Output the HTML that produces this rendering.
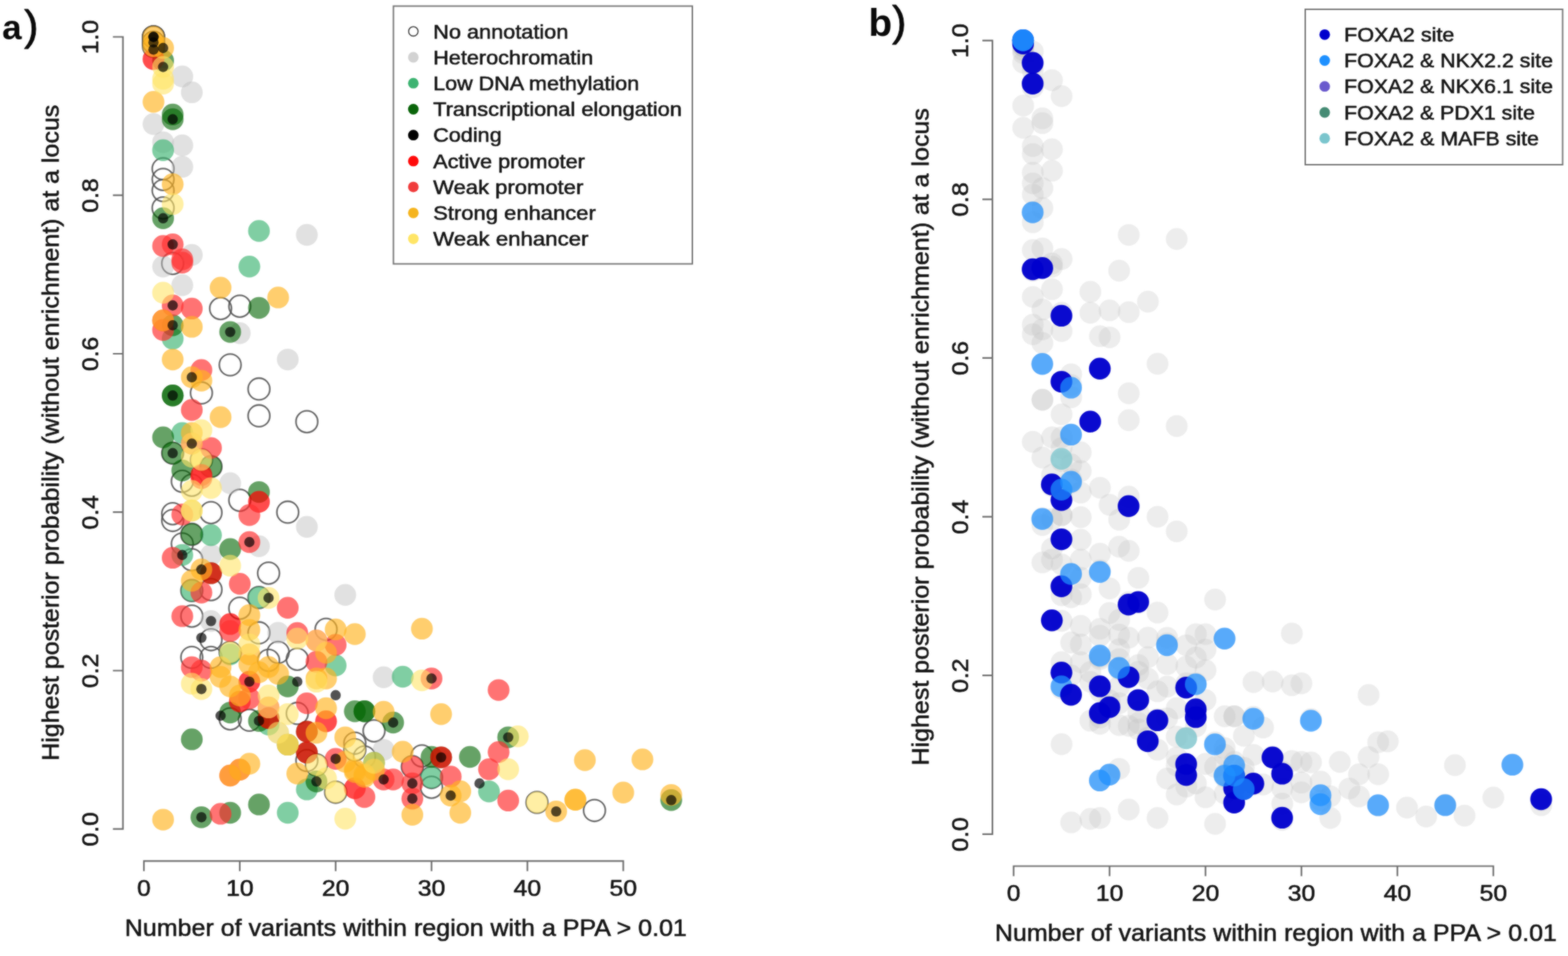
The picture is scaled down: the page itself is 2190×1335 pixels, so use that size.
<!DOCTYPE html>
<html lang="en"><head><meta charset="utf-8"><title>Figure: credible-set size vs. highest posterior probability</title>
<style>html,body{margin:0;padding:0;background:#fff;overflow:hidden}body{width:2190px;height:1335px}svg{display:block}text{font-family:"Liberation Sans",sans-serif;fill:#161616;stroke:#161616;stroke-width:.7px;stroke-linejoin:round}.ax{stroke:#6c6c6c;stroke-width:2.2;fill:none}.lg{stroke:#757575;stroke-width:2;fill:#fff}.N{fill:none;stroke:#505050;stroke-opacity:.85;stroke-width:2.3}.H{fill:#bebebe;fill-opacity:0.46}.L{fill:#3cb371;fill-opacity:0.65}.T{fill:#006400;fill-opacity:0.6}.C{fill:#000000;fill-opacity:0.68}.A{fill:#ff0000;fill-opacity:0.7}.W{fill:#ff3030;fill-opacity:0.68}.S{fill:#ffb421;fill-opacity:0.65}.E{fill:#ffe468;fill-opacity:0.6}.bF{fill:#0000cd;fill-opacity:0.96}.bK{fill:#1e90ff;fill-opacity:0.72}.bX{fill:#6a5acd;fill-opacity:0.8}.bP{fill:#458b74;fill-opacity:0.7}.bM{fill:#7ac5cd;fill-opacity:0.75}.G{fill:#bebebe;fill-opacity:.28}.pl{font-weight:bold;fill:#0a0a0a;stroke:none}.pr{font-weight:normal;stroke:#0a0a0a;stroke-width:1px}</style></head><body>
<svg width="2190" height="1335" viewBox="0 0 2190 1335">
<defs><filter id="soft" x="0" y="0" width="100%" height="100%" color-interpolation-filters="sRGB"><feGaussianBlur stdDeviation="0.85" result="b"/><feComposite in="SourceGraphic" in2="b" operator="arithmetic" k1="0" k2="0.4" k3="0.6" k4="0"/></filter></defs>
<g filter="url(#soft)">
<rect width="2190" height="1335" fill="#fff"/>
<g id="panel-a-points">
<g class="N">
<circle cx="214.4" cy="51.5" r="15.2"/>
<circle cx="214.4" cy="51.5" r="15.2"/>
<circle cx="214.4" cy="51.5" r="15.2"/>
<circle cx="214.4" cy="59.2" r="15.2"/>
<circle cx="214.4" cy="59.2" r="15.2"/>
<circle cx="214.4" cy="64.8" r="15.2"/>
<circle cx="227.8" cy="235.7" r="15.2"/>
<circle cx="227.8" cy="250.6" r="15.2"/>
<circle cx="227.8" cy="266.1" r="15.2"/>
<circle cx="227.8" cy="290.4" r="15.2"/>
<circle cx="241.2" cy="367.9" r="15.2"/>
<circle cx="308.1" cy="430.9" r="15.2"/>
<circle cx="334.9" cy="427.6" r="15.2"/>
<circle cx="321.5" cy="509.5" r="15.2"/>
<circle cx="281.3" cy="548.7" r="15.2"/>
<circle cx="361.7" cy="543.2" r="15.2"/>
<circle cx="361.7" cy="580.7" r="15.2"/>
<circle cx="428.6" cy="588.9" r="15.2"/>
<circle cx="241.2" cy="632.8" r="15.2"/>
<circle cx="281.3" cy="642.2" r="15.2"/>
<circle cx="294.7" cy="651.5" r="15.2"/>
<circle cx="254.6" cy="672.1" r="15.2"/>
<circle cx="267.9" cy="677.6" r="15.2"/>
<circle cx="334.9" cy="698.6" r="15.2"/>
<circle cx="401.9" cy="715.2" r="15.2"/>
<circle cx="241.2" cy="717.4" r="15.2"/>
<circle cx="241.2" cy="726.8" r="15.2"/>
<circle cx="294.7" cy="715.9" r="15.2"/>
<circle cx="267.9" cy="746.2" r="15.2"/>
<circle cx="254.6" cy="759.5" r="15.2"/>
<circle cx="267.9" cy="781.6" r="15.2"/>
<circle cx="375.1" cy="800.4" r="15.2"/>
<circle cx="267.9" cy="824.7" r="15.2"/>
<circle cx="294.7" cy="823.4" r="15.2"/>
<circle cx="361.7" cy="834.4" r="15.2"/>
<circle cx="334.9" cy="849.4" r="15.2"/>
<circle cx="267.9" cy="860.4" r="15.2"/>
<circle cx="361.7" cy="883.7" r="15.2"/>
<circle cx="294.7" cy="893.3" r="15.2"/>
<circle cx="455.4" cy="878.9" r="15.2"/>
<circle cx="267.9" cy="918" r="15.2"/>
<circle cx="294.7" cy="918" r="15.2"/>
<circle cx="321.5" cy="911" r="15.2"/>
<circle cx="388.5" cy="911" r="15.2"/>
<circle cx="375.1" cy="922.1" r="15.2"/>
<circle cx="415.2" cy="920.6" r="15.2"/>
<circle cx="321.5" cy="1003.9" r="15.2"/>
<circle cx="348.3" cy="1005.7" r="15.2"/>
<circle cx="415.2" cy="996.2" r="15.2"/>
<circle cx="428.6" cy="1062" r="15.2"/>
<circle cx="522.4" cy="1020.6" r="15.2"/>
<circle cx="495.6" cy="1037.8" r="15.2"/>
<circle cx="495.6" cy="1047.1" r="15.2"/>
<circle cx="589.3" cy="1055.6" r="15.2"/>
<circle cx="575.9" cy="1070.6" r="15.2"/>
<circle cx="602.7" cy="1085.8" r="15.2"/>
<circle cx="602.7" cy="1099.4" r="15.2"/>
<circle cx="468.8" cy="1106.3" r="15.2"/>
<circle cx="442" cy="1068.1" r="15.2"/>
<circle cx="509" cy="1057" r="15.2"/>
<circle cx="750" cy="1120.5" r="15.2"/>
<circle cx="830.3" cy="1131.8" r="15.2"/>
</g>
<g class="H">
<circle cx="254.6" cy="106.8" r="15.2"/>
<circle cx="267.9" cy="128.9" r="15.2"/>
<circle cx="214.4" cy="173.2" r="15.2"/>
<circle cx="227.8" cy="198.6" r="15.2"/>
<circle cx="254.6" cy="203" r="15.2"/>
<circle cx="254.6" cy="232.9" r="15.2"/>
<circle cx="428.6" cy="328" r="15.2"/>
<circle cx="267.9" cy="356" r="15.2"/>
<circle cx="227.8" cy="372.3" r="15.2"/>
<circle cx="254.6" cy="398.2" r="15.2"/>
<circle cx="334.9" cy="465.2" r="15.2"/>
<circle cx="401.9" cy="502.1" r="15.2"/>
<circle cx="321.5" cy="674.8" r="15.2"/>
<circle cx="267.9" cy="713" r="15.2"/>
<circle cx="428.6" cy="735.7" r="15.2"/>
<circle cx="361.7" cy="762.8" r="15.2"/>
<circle cx="294.7" cy="775" r="15.2"/>
<circle cx="294.7" cy="867.3" r="15.2"/>
<circle cx="388.5" cy="883.7" r="15.2"/>
<circle cx="388.5" cy="1023.3" r="15.2"/>
<circle cx="482.2" cy="830.7" r="15.2"/>
<circle cx="535.8" cy="945.8" r="15.2"/>
<circle cx="535.8" cy="1047.1" r="15.2"/>
</g>
<g class="L">
<circle cx="227.8" cy="209.7" r="15.2"/>
<circle cx="361.7" cy="322.5" r="15.2"/>
<circle cx="348.3" cy="372.3" r="15.2"/>
<circle cx="241.2" cy="473" r="15.2"/>
<circle cx="254.6" cy="604.6" r="15.2"/>
<circle cx="294.7" cy="747.3" r="15.2"/>
<circle cx="254.6" cy="775" r="15.2"/>
<circle cx="267.9" cy="824.7" r="15.2"/>
<circle cx="361.7" cy="834.4" r="15.2"/>
<circle cx="321.5" cy="913.7" r="15.2"/>
<circle cx="375.1" cy="1011.7" r="15.2"/>
<circle cx="562.5" cy="945" r="15.2"/>
<circle cx="468.8" cy="929.3" r="15.2"/>
<circle cx="602.7" cy="1085.8" r="15.2"/>
<circle cx="683" cy="1105.2" r="15.2"/>
<circle cx="428.6" cy="1102.4" r="15.2"/>
<circle cx="401.9" cy="1135" r="15.2"/>
</g>
<g class="T">
<circle cx="227.8" cy="84.7" r="15.2"/>
<circle cx="241.2" cy="159.9" r="15.2"/>
<circle cx="241.2" cy="166.5" r="15.2"/>
<circle cx="227.8" cy="304.8" r="15.2"/>
<circle cx="361.7" cy="430" r="15.2"/>
<circle cx="241.2" cy="454.2" r="15.2"/>
<circle cx="321.5" cy="463.6" r="15.2"/>
<circle cx="241.2" cy="552.3" r="15.2"/>
<circle cx="241.2" cy="552.3" r="15.2"/>
<circle cx="227.8" cy="610.8" r="15.2"/>
<circle cx="241.2" cy="632.8" r="15.2"/>
<circle cx="294.7" cy="651.5" r="15.2"/>
<circle cx="254.6" cy="657" r="15.2"/>
<circle cx="361.7" cy="687.1" r="15.2"/>
<circle cx="267.9" cy="746.2" r="15.2"/>
<circle cx="321.5" cy="766.7" r="15.2"/>
<circle cx="294.7" cy="800.4" r="15.2"/>
<circle cx="401.9" cy="958.6" r="15.2"/>
<circle cx="321.5" cy="995.1" r="15.2"/>
<circle cx="361.7" cy="1006.7" r="15.2"/>
<circle cx="375.1" cy="1002.8" r="15.2"/>
<circle cx="401.9" cy="1039.9" r="15.2"/>
<circle cx="428.6" cy="1021.6" r="15.2"/>
<circle cx="428.6" cy="1051" r="15.2"/>
<circle cx="267.9" cy="1032.4" r="15.2"/>
<circle cx="495.6" cy="993.3" r="15.2"/>
<circle cx="509" cy="993.3" r="15.2"/>
<circle cx="509" cy="993.3" r="15.2"/>
<circle cx="549.1" cy="1009" r="15.2"/>
<circle cx="602.7" cy="1057" r="15.2"/>
<circle cx="616.1" cy="1057.6" r="15.2"/>
<circle cx="656.3" cy="1057" r="15.2"/>
<circle cx="709.8" cy="1029.6" r="15.2"/>
<circle cx="522.4" cy="1065.2" r="15.2"/>
<circle cx="442" cy="1091.3" r="15.2"/>
<circle cx="281.3" cy="1141.2" r="15.2"/>
<circle cx="321.5" cy="1135" r="15.2"/>
<circle cx="361.7" cy="1123.4" r="15.2"/>
<circle cx="937.5" cy="1117.3" r="15.2"/>
</g>
<g class="A">
<circle cx="214.4" cy="82.5" r="15.2"/>
<circle cx="281.3" cy="663.2" r="15.2"/>
<circle cx="361.7" cy="700.8" r="15.2"/>
<circle cx="294.7" cy="800.4" r="15.2"/>
<circle cx="321.5" cy="871.4" r="15.2"/>
<circle cx="348.3" cy="951.9" r="15.2"/>
<circle cx="334.9" cy="979.6" r="15.2"/>
<circle cx="375.1" cy="1002.8" r="15.2"/>
<circle cx="428.6" cy="1021.6" r="15.2"/>
<circle cx="428.6" cy="1051" r="15.2"/>
<circle cx="455.4" cy="1007.3" r="15.2"/>
<circle cx="616.1" cy="1057.6" r="15.2"/>
<circle cx="495.6" cy="1100.8" r="15.2"/>
</g>
<g class="W">
<circle cx="227.8" cy="343.5" r="15.2"/>
<circle cx="241.2" cy="341.3" r="15.2"/>
<circle cx="254.6" cy="362.3" r="15.2"/>
<circle cx="254.6" cy="366.8" r="15.2"/>
<circle cx="241.2" cy="426.5" r="15.2"/>
<circle cx="267.9" cy="430.9" r="15.2"/>
<circle cx="227.8" cy="447.5" r="15.2"/>
<circle cx="227.8" cy="460.8" r="15.2"/>
<circle cx="281.3" cy="516.7" r="15.2"/>
<circle cx="267.9" cy="572.5" r="15.2"/>
<circle cx="267.9" cy="619.5" r="15.2"/>
<circle cx="294.7" cy="625.6" r="15.2"/>
<circle cx="281.3" cy="667.7" r="15.2"/>
<circle cx="348.3" cy="719.3" r="15.2"/>
<circle cx="254.6" cy="718.5" r="15.2"/>
<circle cx="348.3" cy="757" r="15.2"/>
<circle cx="241.2" cy="778.9" r="15.2"/>
<circle cx="334.9" cy="815.2" r="15.2"/>
<circle cx="281.3" cy="827.5" r="15.2"/>
<circle cx="401.9" cy="848.7" r="15.2"/>
<circle cx="254.6" cy="860.4" r="15.2"/>
<circle cx="321.5" cy="881.2" r="15.2"/>
<circle cx="415.2" cy="883.9" r="15.2"/>
<circle cx="267.9" cy="931.6" r="15.2"/>
<circle cx="281.3" cy="936.5" r="15.2"/>
<circle cx="375.1" cy="987.9" r="15.2"/>
<circle cx="348.3" cy="975.2" r="15.2"/>
<circle cx="428.6" cy="982.1" r="15.2"/>
<circle cx="468.8" cy="1059.7" r="15.2"/>
<circle cx="321.5" cy="1083" r="15.2"/>
<circle cx="334.9" cy="1074.7" r="15.2"/>
<circle cx="602.7" cy="947.5" r="15.2"/>
<circle cx="696.4" cy="963.6" r="15.2"/>
<circle cx="442" cy="894.4" r="15.2"/>
<circle cx="442" cy="924.3" r="15.2"/>
<circle cx="468.8" cy="900.5" r="15.2"/>
<circle cx="696.4" cy="1050.2" r="15.2"/>
<circle cx="683" cy="1074.2" r="15.2"/>
<circle cx="575.9" cy="1070.6" r="15.2"/>
<circle cx="575.9" cy="1094" r="15.2"/>
<circle cx="575.9" cy="1115.2" r="15.2"/>
<circle cx="629.5" cy="1084.4" r="15.2"/>
<circle cx="709.8" cy="1117.9" r="15.2"/>
<circle cx="535.8" cy="1088.5" r="15.2"/>
<circle cx="549.1" cy="1088.5" r="15.2"/>
<circle cx="509" cy="1113.1" r="15.2"/>
<circle cx="308.1" cy="1136.4" r="15.2"/>
</g>
<g class="S">
<circle cx="214.4" cy="51.5" r="15.2"/>
<circle cx="214.4" cy="59.2" r="15.2"/>
<circle cx="214.4" cy="64.8" r="15.2"/>
<circle cx="227.8" cy="67" r="15.2"/>
<circle cx="214.4" cy="142.2" r="15.2"/>
<circle cx="241.2" cy="257.3" r="15.2"/>
<circle cx="308.1" cy="401.7" r="15.2"/>
<circle cx="388.5" cy="415.4" r="15.2"/>
<circle cx="227.8" cy="447.5" r="15.2"/>
<circle cx="267.9" cy="456.4" r="15.2"/>
<circle cx="241.2" cy="502.1" r="15.2"/>
<circle cx="267.9" cy="526.8" r="15.2"/>
<circle cx="281.3" cy="531.6" r="15.2"/>
<circle cx="308.1" cy="582.5" r="15.2"/>
<circle cx="267.9" cy="604.6" r="15.2"/>
<circle cx="281.3" cy="795.3" r="15.2"/>
<circle cx="267.9" cy="811" r="15.2"/>
<circle cx="348.3" cy="859" r="15.2"/>
<circle cx="348.3" cy="879.6" r="15.2"/>
<circle cx="308.1" cy="931.6" r="15.2"/>
<circle cx="308.1" cy="945.3" r="15.2"/>
<circle cx="321.5" cy="958.6" r="15.2"/>
<circle cx="348.3" cy="913.7" r="15.2"/>
<circle cx="348.3" cy="927.6" r="15.2"/>
<circle cx="375.1" cy="931.5" r="15.2"/>
<circle cx="361.7" cy="938.7" r="15.2"/>
<circle cx="388.5" cy="940.9" r="15.2"/>
<circle cx="334.9" cy="971.2" r="15.2"/>
<circle cx="442" cy="947.5" r="15.2"/>
<circle cx="455.4" cy="947.5" r="15.2"/>
<circle cx="455.4" cy="989" r="15.2"/>
<circle cx="401.9" cy="1039.9" r="15.2"/>
<circle cx="442" cy="1023.3" r="15.2"/>
<circle cx="321.5" cy="1083" r="15.2"/>
<circle cx="334.9" cy="1074.7" r="15.2"/>
<circle cx="348.3" cy="1066.5" r="15.2"/>
<circle cx="415.2" cy="1080.3" r="15.2"/>
<circle cx="589.3" cy="877.9" r="15.2"/>
<circle cx="495.6" cy="885.5" r="15.2"/>
<circle cx="468.8" cy="878.9" r="15.2"/>
<circle cx="455.4" cy="911.5" r="15.2"/>
<circle cx="616.1" cy="997.3" r="15.2"/>
<circle cx="535.8" cy="994" r="15.2"/>
<circle cx="482.2" cy="1029.6" r="15.2"/>
<circle cx="562.5" cy="1049.8" r="15.2"/>
<circle cx="575.9" cy="1137.8" r="15.2"/>
<circle cx="629.5" cy="1111" r="15.2"/>
<circle cx="642.9" cy="1104.9" r="15.2"/>
<circle cx="642.9" cy="1135" r="15.2"/>
<circle cx="482.2" cy="1063.7" r="15.2"/>
<circle cx="495.6" cy="1074.7" r="15.2"/>
<circle cx="509" cy="1081.6" r="15.2"/>
<circle cx="522.4" cy="1074.7" r="15.2"/>
<circle cx="495.6" cy="1078.1" r="15.2"/>
<circle cx="509" cy="1084.7" r="15.2"/>
<circle cx="227.8" cy="1144.6" r="15.2"/>
<circle cx="776.8" cy="1133.1" r="15.2"/>
<circle cx="803.6" cy="1116.8" r="15.2"/>
<circle cx="803.6" cy="1116.8" r="15.2"/>
<circle cx="816.9" cy="1061.5" r="15.2"/>
<circle cx="897.3" cy="1060.4" r="15.2"/>
<circle cx="870.5" cy="1106.7" r="15.2"/>
<circle cx="937.5" cy="1110.1" r="15.2"/>
</g>
<g class="E">
<circle cx="227.8" cy="93.5" r="15.2"/>
<circle cx="227.8" cy="110.1" r="15.2"/>
<circle cx="227.8" cy="116.8" r="15.2"/>
<circle cx="241.2" cy="284.9" r="15.2"/>
<circle cx="227.8" cy="408.8" r="15.2"/>
<circle cx="281.3" cy="600.7" r="15.2"/>
<circle cx="267.9" cy="619.5" r="15.2"/>
<circle cx="267.9" cy="637.8" r="15.2"/>
<circle cx="281.3" cy="642.2" r="15.2"/>
<circle cx="294.7" cy="681.6" r="15.2"/>
<circle cx="267.9" cy="685.4" r="15.2"/>
<circle cx="267.9" cy="713" r="15.2"/>
<circle cx="267.9" cy="713" r="15.2"/>
<circle cx="321.5" cy="789.9" r="15.2"/>
<circle cx="375.1" cy="835" r="15.2"/>
<circle cx="348.3" cy="900" r="15.2"/>
<circle cx="415.2" cy="891.7" r="15.2"/>
<circle cx="321.5" cy="911" r="15.2"/>
<circle cx="267.9" cy="954.7" r="15.2"/>
<circle cx="281.3" cy="962.2" r="15.2"/>
<circle cx="375.1" cy="971.2" r="15.2"/>
<circle cx="375.1" cy="987.9" r="15.2"/>
<circle cx="401.9" cy="997.3" r="15.2"/>
<circle cx="401.9" cy="1039.9" r="15.2"/>
<circle cx="388.5" cy="1023.3" r="15.2"/>
<circle cx="589.3" cy="950.1" r="15.2"/>
<circle cx="442" cy="894.4" r="15.2"/>
<circle cx="442" cy="951.9" r="15.2"/>
<circle cx="495.6" cy="1047.1" r="15.2"/>
<circle cx="723.2" cy="1028.3" r="15.2"/>
<circle cx="709.8" cy="1074.2" r="15.2"/>
<circle cx="522.4" cy="1065.2" r="15.2"/>
<circle cx="468.8" cy="1106.3" r="15.2"/>
<circle cx="455.4" cy="1086.9" r="15.2"/>
<circle cx="482.2" cy="1143.3" r="15.2"/>
<circle cx="442" cy="1068.1" r="15.2"/>
<circle cx="750" cy="1120.5" r="15.2"/>
</g>
<g class="C">
<circle cx="214.4" cy="51.5" r="7.2"/>
<circle cx="214.4" cy="51.5" r="7.2"/>
<circle cx="214.4" cy="59.2" r="7.2"/>
<circle cx="227.8" cy="67" r="7.2"/>
<circle cx="214.4" cy="69.2" r="7.2"/>
<circle cx="227.8" cy="93.5" r="7.2"/>
<circle cx="241.2" cy="166.5" r="7.2"/>
<circle cx="227.8" cy="304.8" r="7.2"/>
<circle cx="241.2" cy="341.3" r="7.2"/>
<circle cx="241.2" cy="426.5" r="7.2"/>
<circle cx="241.2" cy="454.2" r="7.2"/>
<circle cx="321.5" cy="463.6" r="7.2"/>
<circle cx="267.9" cy="526.8" r="7.2"/>
<circle cx="241.2" cy="552.3" r="7.2"/>
<circle cx="267.9" cy="619.5" r="7.2"/>
<circle cx="241.2" cy="632.8" r="7.2"/>
<circle cx="348.3" cy="757" r="7.2"/>
<circle cx="254.6" cy="775" r="7.2"/>
<circle cx="281.3" cy="795.3" r="7.2"/>
<circle cx="375.1" cy="835" r="7.2"/>
<circle cx="294.7" cy="867.3" r="7.2"/>
<circle cx="281.3" cy="890.6" r="7.2"/>
<circle cx="281.3" cy="962.2" r="7.2"/>
<circle cx="348.3" cy="951.9" r="7.2"/>
<circle cx="415.2" cy="951.9" r="7.2"/>
<circle cx="308.1" cy="999.5" r="7.2"/>
<circle cx="361.7" cy="1006.7" r="7.2"/>
<circle cx="468.8" cy="970.8" r="7.2"/>
<circle cx="468.8" cy="1059.7" r="7.2"/>
<circle cx="602.7" cy="947.5" r="7.2"/>
<circle cx="549.1" cy="1009" r="7.2"/>
<circle cx="616.1" cy="1057.6" r="7.2"/>
<circle cx="709.8" cy="1029.6" r="7.2"/>
<circle cx="575.9" cy="1094" r="7.2"/>
<circle cx="575.9" cy="1115.2" r="7.2"/>
<circle cx="629.5" cy="1111" r="7.2"/>
<circle cx="669.7" cy="1094" r="7.2"/>
<circle cx="535.8" cy="1088.5" r="7.2"/>
<circle cx="442" cy="1091.3" r="7.2"/>
<circle cx="281.3" cy="1141.2" r="7.2"/>
<circle cx="776.8" cy="1133.1" r="7.2"/>
<circle cx="937.5" cy="1117.3" r="7.2"/>
</g>
</g>
<g id="panel-b-points">
<g class="G">
<circle cx="1429.1" cy="56.6" r="15.2"/>
<circle cx="1429.1" cy="56.6" r="15.2"/>
<circle cx="1429.1" cy="56.6" r="15.2"/>
<circle cx="1429.1" cy="64.4" r="15.2"/>
<circle cx="1429.1" cy="64.4" r="15.2"/>
<circle cx="1429.1" cy="69.9" r="15.2"/>
<circle cx="1442.5" cy="72.1" r="15.2"/>
<circle cx="1429.1" cy="74.3" r="15.2"/>
<circle cx="1429.1" cy="87.6" r="15.2"/>
<circle cx="1442.5" cy="89.8" r="15.2"/>
<circle cx="1442.5" cy="98.7" r="15.2"/>
<circle cx="1442.5" cy="115.3" r="15.2"/>
<circle cx="1442.5" cy="122" r="15.2"/>
<circle cx="1469.3" cy="112" r="15.2"/>
<circle cx="1482.7" cy="134.2" r="15.2"/>
<circle cx="1429.1" cy="147.5" r="15.2"/>
<circle cx="1455.9" cy="165.2" r="15.2"/>
<circle cx="1455.9" cy="171.9" r="15.2"/>
<circle cx="1429.1" cy="178.5" r="15.2"/>
<circle cx="1442.5" cy="204" r="15.2"/>
<circle cx="1442.5" cy="215.1" r="15.2"/>
<circle cx="1469.3" cy="208.4" r="15.2"/>
<circle cx="1469.3" cy="238.4" r="15.2"/>
<circle cx="1442.5" cy="241.1" r="15.2"/>
<circle cx="1442.5" cy="256.1" r="15.2"/>
<circle cx="1442.5" cy="271.6" r="15.2"/>
<circle cx="1442.5" cy="296" r="15.2"/>
<circle cx="1455.9" cy="262.7" r="15.2"/>
<circle cx="1455.9" cy="290.5" r="15.2"/>
<circle cx="1442.5" cy="310.4" r="15.2"/>
<circle cx="1576.5" cy="328.1" r="15.2"/>
<circle cx="1643.5" cy="333.7" r="15.2"/>
<circle cx="1442.5" cy="349.2" r="15.2"/>
<circle cx="1455.9" cy="347" r="15.2"/>
<circle cx="1469.3" cy="368" r="15.2"/>
<circle cx="1469.3" cy="372.5" r="15.2"/>
<circle cx="1482.7" cy="361.7" r="15.2"/>
<circle cx="1442.5" cy="378" r="15.2"/>
<circle cx="1455.9" cy="373.6" r="15.2"/>
<circle cx="1563.1" cy="378" r="15.2"/>
<circle cx="1469.3" cy="403.9" r="15.2"/>
<circle cx="1442.5" cy="414.6" r="15.2"/>
<circle cx="1522.9" cy="407.5" r="15.2"/>
<circle cx="1603.3" cy="421.2" r="15.2"/>
<circle cx="1522.9" cy="436.7" r="15.2"/>
<circle cx="1549.7" cy="433.4" r="15.2"/>
<circle cx="1576.5" cy="435.9" r="15.2"/>
<circle cx="1455.9" cy="432.3" r="15.2"/>
<circle cx="1482.7" cy="436.7" r="15.2"/>
<circle cx="1442.5" cy="453.4" r="15.2"/>
<circle cx="1455.9" cy="460" r="15.2"/>
<circle cx="1442.5" cy="466.7" r="15.2"/>
<circle cx="1482.7" cy="462.2" r="15.2"/>
<circle cx="1455.9" cy="478.9" r="15.2"/>
<circle cx="1536.3" cy="469.4" r="15.2"/>
<circle cx="1549.7" cy="471.1" r="15.2"/>
<circle cx="1455.9" cy="508" r="15.2"/>
<circle cx="1616.7" cy="508" r="15.2"/>
<circle cx="1536.3" cy="515.4" r="15.2"/>
<circle cx="1496.1" cy="522.6" r="15.2"/>
<circle cx="1482.7" cy="532.8" r="15.2"/>
<circle cx="1496.1" cy="537.6" r="15.2"/>
<circle cx="1496.1" cy="554.8" r="15.2"/>
<circle cx="1576.5" cy="549.2" r="15.2"/>
<circle cx="1455.9" cy="558.3" r="15.2"/>
<circle cx="1455.9" cy="558.3" r="15.2"/>
<circle cx="1482.7" cy="578.6" r="15.2"/>
<circle cx="1576.5" cy="586.8" r="15.2"/>
<circle cx="1522.9" cy="588.6" r="15.2"/>
<circle cx="1643.5" cy="595" r="15.2"/>
<circle cx="1496.1" cy="606.9" r="15.2"/>
<circle cx="1482.7" cy="610.8" r="15.2"/>
<circle cx="1469.3" cy="610.8" r="15.2"/>
<circle cx="1442.5" cy="617" r="15.2"/>
<circle cx="1482.7" cy="625.7" r="15.2"/>
<circle cx="1509.5" cy="631.8" r="15.2"/>
<circle cx="1455.9" cy="639" r="15.2"/>
<circle cx="1482.7" cy="644" r="15.2"/>
<circle cx="1496.1" cy="648.4" r="15.2"/>
<circle cx="1509.5" cy="657.7" r="15.2"/>
<circle cx="1469.3" cy="663.3" r="15.2"/>
<circle cx="1496.1" cy="669.5" r="15.2"/>
<circle cx="1496.1" cy="673.9" r="15.2"/>
<circle cx="1469.3" cy="678.4" r="15.2"/>
<circle cx="1482.7" cy="683.9" r="15.2"/>
<circle cx="1536.3" cy="681.1" r="15.2"/>
<circle cx="1509.5" cy="687.9" r="15.2"/>
<circle cx="1482.7" cy="691.7" r="15.2"/>
<circle cx="1576.5" cy="693.4" r="15.2"/>
<circle cx="1576.5" cy="707.2" r="15.2"/>
<circle cx="1549.7" cy="705" r="15.2"/>
<circle cx="1563.1" cy="725.7" r="15.2"/>
<circle cx="1616.7" cy="721.6" r="15.2"/>
<circle cx="1455.9" cy="723.8" r="15.2"/>
<circle cx="1455.9" cy="733.2" r="15.2"/>
<circle cx="1469.3" cy="724.9" r="15.2"/>
<circle cx="1482.7" cy="719.4" r="15.2"/>
<circle cx="1482.7" cy="719.4" r="15.2"/>
<circle cx="1509.5" cy="722.2" r="15.2"/>
<circle cx="1643.5" cy="742.1" r="15.2"/>
<circle cx="1482.7" cy="752.6" r="15.2"/>
<circle cx="1469.3" cy="765.9" r="15.2"/>
<circle cx="1509.5" cy="753.7" r="15.2"/>
<circle cx="1563.1" cy="763.5" r="15.2"/>
<circle cx="1576.5" cy="769.2" r="15.2"/>
<circle cx="1536.3" cy="773.1" r="15.2"/>
<circle cx="1455.9" cy="785.4" r="15.2"/>
<circle cx="1469.3" cy="781.4" r="15.2"/>
<circle cx="1509.5" cy="781.4" r="15.2"/>
<circle cx="1482.7" cy="788.1" r="15.2"/>
<circle cx="1496.1" cy="801.8" r="15.2"/>
<circle cx="1509.5" cy="806.9" r="15.2"/>
<circle cx="1536.3" cy="796.4" r="15.2"/>
<circle cx="1589.9" cy="806.9" r="15.2"/>
<circle cx="1549.7" cy="821.8" r="15.2"/>
<circle cx="1482.7" cy="817.6" r="15.2"/>
<circle cx="1482.7" cy="831.3" r="15.2"/>
<circle cx="1496.1" cy="834.1" r="15.2"/>
<circle cx="1509.5" cy="830" r="15.2"/>
<circle cx="1576.5" cy="840.9" r="15.2"/>
<circle cx="1589.9" cy="841.6" r="15.2"/>
<circle cx="1549.7" cy="856" r="15.2"/>
<circle cx="1616.7" cy="855.4" r="15.2"/>
<circle cx="1469.3" cy="867" r="15.2"/>
<circle cx="1482.7" cy="867" r="15.2"/>
<circle cx="1509.5" cy="874" r="15.2"/>
<circle cx="1536.3" cy="878.1" r="15.2"/>
<circle cx="1536.3" cy="887.8" r="15.2"/>
<circle cx="1563.1" cy="865.7" r="15.2"/>
<circle cx="1563.1" cy="886.3" r="15.2"/>
<circle cx="1563.1" cy="906.7" r="15.2"/>
<circle cx="1576.5" cy="890.4" r="15.2"/>
<circle cx="1496.1" cy="897.2" r="15.2"/>
<circle cx="1509.5" cy="900" r="15.2"/>
<circle cx="1603.3" cy="890.4" r="15.2"/>
<circle cx="1630.1" cy="890.6" r="15.2"/>
<circle cx="1630.1" cy="898.4" r="15.2"/>
<circle cx="1670.3" cy="885.6" r="15.2"/>
<circle cx="1482.7" cy="924.7" r="15.2"/>
<circle cx="1509.5" cy="924.7" r="15.2"/>
<circle cx="1536.3" cy="917.7" r="15.2"/>
<circle cx="1603.3" cy="917.7" r="15.2"/>
<circle cx="1589.9" cy="928.8" r="15.2"/>
<circle cx="1630.1" cy="927.4" r="15.2"/>
<circle cx="1482.7" cy="938.4" r="15.2"/>
<circle cx="1522.9" cy="938.4" r="15.2"/>
<circle cx="1496.1" cy="943.2" r="15.2"/>
<circle cx="1482.7" cy="961.5" r="15.2"/>
<circle cx="1496.1" cy="969.1" r="15.2"/>
<circle cx="1522.9" cy="952.1" r="15.2"/>
<circle cx="1536.3" cy="965.4" r="15.2"/>
<circle cx="1536.3" cy="920.4" r="15.2"/>
<circle cx="1563.1" cy="920.4" r="15.2"/>
<circle cx="1563.1" cy="934.4" r="15.2"/>
<circle cx="1589.9" cy="938.3" r="15.2"/>
<circle cx="1576.5" cy="945.5" r="15.2"/>
<circle cx="1603.3" cy="947.7" r="15.2"/>
<circle cx="1563.1" cy="958.8" r="15.2"/>
<circle cx="1630.1" cy="958.8" r="15.2"/>
<circle cx="1616.7" cy="965.4" r="15.2"/>
<circle cx="1549.7" cy="978" r="15.2"/>
<circle cx="1549.7" cy="986.5" r="15.2"/>
<circle cx="1589.9" cy="978" r="15.2"/>
<circle cx="1589.9" cy="994.8" r="15.2"/>
<circle cx="1522.9" cy="1006.4" r="15.2"/>
<circle cx="1536.3" cy="1002" r="15.2"/>
<circle cx="1536.3" cy="1010.8" r="15.2"/>
<circle cx="1563.1" cy="1012.6" r="15.2"/>
<circle cx="1563.1" cy="982" r="15.2"/>
<circle cx="1576.5" cy="1013.6" r="15.2"/>
<circle cx="1589.9" cy="1018.6" r="15.2"/>
<circle cx="1589.9" cy="1009.7" r="15.2"/>
<circle cx="1643.5" cy="989" r="15.2"/>
<circle cx="1656.9" cy="954.3" r="15.2"/>
<circle cx="1670.3" cy="954.3" r="15.2"/>
<circle cx="1670.3" cy="995.9" r="15.2"/>
<circle cx="1683.7" cy="977.6" r="15.2"/>
<circle cx="1630.1" cy="1003.1" r="15.2"/>
<circle cx="1616.7" cy="1004.2" r="15.2"/>
<circle cx="1616.7" cy="1046.9" r="15.2"/>
<circle cx="1603.3" cy="1030.2" r="15.2"/>
<circle cx="1656.9" cy="1030.2" r="15.2"/>
<circle cx="1643.5" cy="1028.6" r="15.2"/>
<circle cx="1643.5" cy="1057.9" r="15.2"/>
<circle cx="1643.5" cy="1069" r="15.2"/>
<circle cx="1683.7" cy="1066.7" r="15.2"/>
<circle cx="1482.7" cy="1039.3" r="15.2"/>
<circle cx="1536.3" cy="1090.1" r="15.2"/>
<circle cx="1549.7" cy="1081.8" r="15.2"/>
<circle cx="1563.1" cy="1073.6" r="15.2"/>
<circle cx="1630.1" cy="1087.3" r="15.2"/>
<circle cx="1697.1" cy="837.3" r="15.2"/>
<circle cx="1804.3" cy="884.6" r="15.2"/>
<circle cx="1710.5" cy="892.1" r="15.2"/>
<circle cx="1683.7" cy="885.6" r="15.2"/>
<circle cx="1750.7" cy="952.5" r="15.2"/>
<circle cx="1777.5" cy="951.8" r="15.2"/>
<circle cx="1817.7" cy="954.3" r="15.2"/>
<circle cx="1804.3" cy="956.9" r="15.2"/>
<circle cx="1911.5" cy="970.4" r="15.2"/>
<circle cx="1656.9" cy="901.1" r="15.2"/>
<circle cx="1670.3" cy="918.2" r="15.2"/>
<circle cx="1656.9" cy="931" r="15.2"/>
<circle cx="1683.7" cy="936" r="15.2"/>
<circle cx="1683.7" cy="907.2" r="15.2"/>
<circle cx="1656.9" cy="958.8" r="15.2"/>
<circle cx="1831.1" cy="1004.2" r="15.2"/>
<circle cx="1710.5" cy="1000.2" r="15.2"/>
<circle cx="1723.9" cy="1000.2" r="15.2"/>
<circle cx="1723.9" cy="1000.2" r="15.2"/>
<circle cx="1750.7" cy="1000.9" r="15.2"/>
<circle cx="1764.1" cy="1015.9" r="15.2"/>
<circle cx="1737.3" cy="1027.6" r="15.2"/>
<circle cx="1670.3" cy="1014.2" r="15.2"/>
<circle cx="1697.1" cy="1036.6" r="15.2"/>
<circle cx="1710.5" cy="1044.8" r="15.2"/>
<circle cx="1710.5" cy="1054.1" r="15.2"/>
<circle cx="1750.7" cy="1054.1" r="15.2"/>
<circle cx="1777.5" cy="1056.8" r="15.2"/>
<circle cx="1804.3" cy="1062.6" r="15.2"/>
<circle cx="1817.7" cy="1064" r="15.2"/>
<circle cx="1831.1" cy="1064.6" r="15.2"/>
<circle cx="1871.3" cy="1064" r="15.2"/>
<circle cx="1924.9" cy="1036.6" r="15.2"/>
<circle cx="1938.3" cy="1035.2" r="15.2"/>
<circle cx="1911.5" cy="1057.2" r="15.2"/>
<circle cx="1898.1" cy="1081.2" r="15.2"/>
<circle cx="1924.9" cy="1081.2" r="15.2"/>
<circle cx="1790.9" cy="1077.7" r="15.2"/>
<circle cx="1790.9" cy="1101.1" r="15.2"/>
<circle cx="1790.9" cy="1122.3" r="15.2"/>
<circle cx="1790.9" cy="1145" r="15.2"/>
<circle cx="1817.7" cy="1092.9" r="15.2"/>
<circle cx="1817.7" cy="1106.5" r="15.2"/>
<circle cx="1844.5" cy="1091.4" r="15.2"/>
<circle cx="1844.5" cy="1118.1" r="15.2"/>
<circle cx="1857.9" cy="1112" r="15.2"/>
<circle cx="1857.9" cy="1142.2" r="15.2"/>
<circle cx="1884.7" cy="1101.1" r="15.2"/>
<circle cx="1898.1" cy="1112.3" r="15.2"/>
<circle cx="1924.9" cy="1125" r="15.2"/>
<circle cx="1750.7" cy="1095.5" r="15.2"/>
<circle cx="1764.1" cy="1095.5" r="15.2"/>
<circle cx="1723.9" cy="1120.2" r="15.2"/>
<circle cx="1710.5" cy="1107.9" r="15.2"/>
<circle cx="1697.1" cy="1070.7" r="15.2"/>
<circle cx="1710.5" cy="1081.8" r="15.2"/>
<circle cx="1723.9" cy="1088.6" r="15.2"/>
<circle cx="1737.3" cy="1081.8" r="15.2"/>
<circle cx="1737.3" cy="1072.2" r="15.2"/>
<circle cx="1656.9" cy="1098.4" r="15.2"/>
<circle cx="1643.5" cy="1109.5" r="15.2"/>
<circle cx="1683.7" cy="1113.4" r="15.2"/>
<circle cx="1670.3" cy="1094" r="15.2"/>
<circle cx="1710.5" cy="1085.1" r="15.2"/>
<circle cx="1723.9" cy="1091.8" r="15.2"/>
<circle cx="1697.1" cy="1150.5" r="15.2"/>
<circle cx="1656.9" cy="1075.1" r="15.2"/>
<circle cx="1723.9" cy="1064" r="15.2"/>
<circle cx="1496.1" cy="1148.4" r="15.2"/>
<circle cx="1522.9" cy="1143.5" r="15.2"/>
<circle cx="1536.3" cy="1142.2" r="15.2"/>
<circle cx="1576.5" cy="1130.5" r="15.2"/>
<circle cx="1616.7" cy="1142.2" r="15.2"/>
<circle cx="1965.1" cy="1127.7" r="15.2"/>
<circle cx="1991.9" cy="1140.3" r="15.2"/>
<circle cx="2018.7" cy="1123.9" r="15.2"/>
<circle cx="2018.7" cy="1123.9" r="15.2"/>
<circle cx="2045.5" cy="1139" r="15.2"/>
<circle cx="2032.1" cy="1068.5" r="15.2"/>
<circle cx="2112.5" cy="1067.4" r="15.2"/>
<circle cx="2085.7" cy="1113.8" r="15.2"/>
<circle cx="2152.7" cy="1117.2" r="15.2"/>
<circle cx="2152.7" cy="1124.4" r="15.2"/>
</g>
<g class="bM">
<circle cx="1482.5" cy="640.7" r="15.2"/>
<circle cx="1656.7" cy="1031" r="15.2"/>
</g>
<g class="bP">
</g>
<g class="bX">
</g>
<g class="bF">
<circle cx="1428.9" cy="60.8" r="15.2"/>
<circle cx="1428.9" cy="56.3" r="15.2"/>
<circle cx="1442.3" cy="87.8" r="15.2"/>
<circle cx="1442.3" cy="116.8" r="15.2"/>
<circle cx="1442.3" cy="376" r="15.2"/>
<circle cx="1455.7" cy="374.2" r="15.2"/>
<circle cx="1482.5" cy="440.9" r="15.2"/>
<circle cx="1482.5" cy="533.1" r="15.2"/>
<circle cx="1536.1" cy="514.7" r="15.2"/>
<circle cx="1522.7" cy="588.7" r="15.2"/>
<circle cx="1469.1" cy="676.4" r="15.2"/>
<circle cx="1482.5" cy="698.3" r="15.2"/>
<circle cx="1576.3" cy="706.8" r="15.2"/>
<circle cx="1482.5" cy="753.1" r="15.2"/>
<circle cx="1482.5" cy="818.8" r="15.2"/>
<circle cx="1576.3" cy="844.3" r="15.2"/>
<circle cx="1589.7" cy="840.6" r="15.2"/>
<circle cx="1469.1" cy="866.3" r="15.2"/>
<circle cx="1482.5" cy="939.2" r="15.2"/>
<circle cx="1536.1" cy="958.4" r="15.2"/>
<circle cx="1576.3" cy="945.6" r="15.2"/>
<circle cx="1589.7" cy="977.6" r="15.2"/>
<circle cx="1536.1" cy="995.8" r="15.2"/>
<circle cx="1549.5" cy="987.6" r="15.2"/>
<circle cx="1616.5" cy="1005.9" r="15.2"/>
<circle cx="1603.1" cy="1035.1" r="15.2"/>
<circle cx="1656.7" cy="960.2" r="15.2"/>
<circle cx="1670.1" cy="990.4" r="15.2"/>
<circle cx="1670.1" cy="1001.4" r="15.2"/>
<circle cx="1656.7" cy="1067" r="15.2"/>
<circle cx="1656.7" cy="1082.3" r="15.2"/>
<circle cx="1723.7" cy="1083.1" r="15.2"/>
<circle cx="1750.5" cy="1094.2" r="15.2"/>
<circle cx="1737.1" cy="1101.9" r="15.2"/>
<circle cx="1723.7" cy="1120.8" r="15.2"/>
<circle cx="1723.7" cy="1100.8" r="15.2"/>
<circle cx="1777.3" cy="1057.8" r="15.2"/>
<circle cx="1790.7" cy="1080.4" r="15.2"/>
<circle cx="1790.7" cy="1141.9" r="15.2"/>
<circle cx="2152.5" cy="1116" r="15.2"/>
</g>
<g class="bK">
<circle cx="1428.9" cy="56.3" r="15.2"/>
<circle cx="1428.9" cy="56.3" r="15.2"/>
<circle cx="1442.3" cy="296.6" r="15.2"/>
<circle cx="1455.7" cy="508.3" r="15.2"/>
<circle cx="1495.9" cy="541.4" r="15.2"/>
<circle cx="1495.9" cy="606.9" r="15.2"/>
<circle cx="1495.9" cy="672.7" r="15.2"/>
<circle cx="1482.5" cy="683.7" r="15.2"/>
<circle cx="1455.7" cy="724.8" r="15.2"/>
<circle cx="1495.9" cy="801.5" r="15.2"/>
<circle cx="1536.1" cy="798.7" r="15.2"/>
<circle cx="1629.9" cy="901" r="15.2"/>
<circle cx="1710.3" cy="891.8" r="15.2"/>
<circle cx="1536.1" cy="915.5" r="15.2"/>
<circle cx="1562.9" cy="932.7" r="15.2"/>
<circle cx="1482.5" cy="958.4" r="15.2"/>
<circle cx="1670.1" cy="955.6" r="15.2"/>
<circle cx="1750.5" cy="1003.7" r="15.2"/>
<circle cx="1830.9" cy="1006.5" r="15.2"/>
<circle cx="1696.9" cy="1039.4" r="15.2"/>
<circle cx="1536.1" cy="1089.9" r="15.2"/>
<circle cx="1549.5" cy="1081.7" r="15.2"/>
<circle cx="1723.7" cy="1069" r="15.2"/>
<circle cx="1710.3" cy="1083.1" r="15.2"/>
<circle cx="1723.7" cy="1083.1" r="15.2"/>
<circle cx="1737.1" cy="1101.9" r="15.2"/>
<circle cx="1844.3" cy="1110.5" r="15.2"/>
<circle cx="1844.3" cy="1123" r="15.2"/>
<circle cx="1924.7" cy="1124.4" r="15.2"/>
<circle cx="2018.5" cy="1124.4" r="15.2"/>
<circle cx="2112.3" cy="1067.9" r="15.2"/>
</g>
<g class="bM">
</g>
<g class="bP">
</g>
<g class="bX">
</g>
<g class="bF">
<circle cx="1495.9" cy="970.3" r="15.2"/>
</g>
<g class="bK">
</g>
</g>
<path class="ax" d="M201 1216.4 V1202.4 H870.5 V1216.4 M334.9 1202.4 V1216.4 M468.8 1202.4 V1216.4 M602.7 1202.4 V1216.4 M736.6 1202.4 V1216.4 M157.7 1157.7 H171.7 V51.5 H157.7 M171.7 936.5 H157.7 M171.7 715.2 H157.7 M171.7 494 H157.7 M171.7 272.7 H157.7"/>
<text x="201" y="1250.9" font-size="31" text-anchor="middle" textLength="19" lengthAdjust="spacingAndGlyphs">0</text>
<text x="334.9" y="1250.9" font-size="31" text-anchor="middle" textLength="38.5" lengthAdjust="spacingAndGlyphs">10</text>
<text x="468.8" y="1250.9" font-size="31" text-anchor="middle" textLength="38.5" lengthAdjust="spacingAndGlyphs">20</text>
<text x="602.7" y="1250.9" font-size="31" text-anchor="middle" textLength="38.5" lengthAdjust="spacingAndGlyphs">30</text>
<text x="736.6" y="1250.9" font-size="31" text-anchor="middle" textLength="38.5" lengthAdjust="spacingAndGlyphs">40</text>
<text x="870.5" y="1250.9" font-size="31" text-anchor="middle" textLength="38.5" lengthAdjust="spacingAndGlyphs">50</text>
<text transform="translate(137.4 1158) rotate(-90)" font-size="31" text-anchor="middle" textLength="48" lengthAdjust="spacingAndGlyphs">0.0</text>
<text transform="translate(137.4 936.8) rotate(-90)" font-size="31" text-anchor="middle" textLength="48" lengthAdjust="spacingAndGlyphs">0.2</text>
<text transform="translate(137.4 715.5) rotate(-90)" font-size="31" text-anchor="middle" textLength="48" lengthAdjust="spacingAndGlyphs">0.4</text>
<text transform="translate(137.4 494.3) rotate(-90)" font-size="31" text-anchor="middle" textLength="48" lengthAdjust="spacingAndGlyphs">0.6</text>
<text transform="translate(137.4 273) rotate(-90)" font-size="31" text-anchor="middle" textLength="48" lengthAdjust="spacingAndGlyphs">0.8</text>
<text transform="translate(137.4 51.8) rotate(-90)" font-size="31" text-anchor="middle" textLength="48" lengthAdjust="spacingAndGlyphs">1.0</text>
<path class="ax" d="M1415.7 1223.5 V1209.5 H2085.7 V1223.5 M1549.7 1209.5 V1223.5 M1683.7 1209.5 V1223.5 M1817.7 1209.5 V1223.5 M1951.7 1209.5 V1223.5 M1372.1 1164.9 H1386.1 V56.6 H1372.1 M1386.1 943.2 H1372.1 M1386.1 721.6 H1372.1 M1386.1 499.9 H1372.1 M1386.1 278.3 H1372.1"/>
<text x="1415.7" y="1258" font-size="31" text-anchor="middle" textLength="19" lengthAdjust="spacingAndGlyphs">0</text>
<text x="1549.7" y="1258" font-size="31" text-anchor="middle" textLength="38.5" lengthAdjust="spacingAndGlyphs">10</text>
<text x="1683.7" y="1258" font-size="31" text-anchor="middle" textLength="38.5" lengthAdjust="spacingAndGlyphs">20</text>
<text x="1817.7" y="1258" font-size="31" text-anchor="middle" textLength="38.5" lengthAdjust="spacingAndGlyphs">30</text>
<text x="1951.7" y="1258" font-size="31" text-anchor="middle" textLength="38.5" lengthAdjust="spacingAndGlyphs">40</text>
<text x="2085.7" y="1258" font-size="31" text-anchor="middle" textLength="38.5" lengthAdjust="spacingAndGlyphs">50</text>
<text transform="translate(1351.8 1165.2) rotate(-90)" font-size="31" text-anchor="middle" textLength="48" lengthAdjust="spacingAndGlyphs">0.0</text>
<text transform="translate(1351.8 943.5) rotate(-90)" font-size="31" text-anchor="middle" textLength="48" lengthAdjust="spacingAndGlyphs">0.2</text>
<text transform="translate(1351.8 721.9) rotate(-90)" font-size="31" text-anchor="middle" textLength="48" lengthAdjust="spacingAndGlyphs">0.4</text>
<text transform="translate(1351.8 500.2) rotate(-90)" font-size="31" text-anchor="middle" textLength="48" lengthAdjust="spacingAndGlyphs">0.6</text>
<text transform="translate(1351.8 278.6) rotate(-90)" font-size="31" text-anchor="middle" textLength="48" lengthAdjust="spacingAndGlyphs">0.8</text>
<text transform="translate(1351.8 56.9) rotate(-90)" font-size="31" text-anchor="middle" textLength="48" lengthAdjust="spacingAndGlyphs">1.0</text>
<text x="566.8" y="1307.2" font-size="33" text-anchor="middle" textLength="785" lengthAdjust="spacingAndGlyphs">Number of variants within region with a PPA &gt; 0.01</text>
<text x="1782" y="1313.7" font-size="33" text-anchor="middle" textLength="785" lengthAdjust="spacingAndGlyphs">Number of variants within region with a PPA &gt; 0.01</text>
<text transform="translate(82.3 604.3) rotate(-90)" font-size="33" text-anchor="middle" textLength="916" lengthAdjust="spacingAndGlyphs">Highest posterior probability (without enrichment) at a locus</text>
<text transform="translate(1296.8 610) rotate(-90)" font-size="33" text-anchor="middle" textLength="918" lengthAdjust="spacingAndGlyphs">Highest posterior probability (without enrichment) at a locus</text>
<text class="pl" x="3" y="55"><tspan font-size="49">a</tspan><tspan class="pr" font-size="60" dx="3.5" dy="1">)</tspan></text>
<text class="pl" x="1213" y="50"><tspan font-size="54">b</tspan><tspan class="pr" font-size="60" dx="0" dy="0">)</tspan></text>
<rect class="lg" x="549.5" y="8.5" width="417.5" height="360"/>
<circle cx="577.3" cy="43.8" r="6.6" fill="#fff" stroke="#444" stroke-width="1.6"/>
<text x="605" y="53.5" font-size="28" textLength="188.8" lengthAdjust="spacingAndGlyphs">No annotation</text>
<circle cx="577.3" cy="80" r="7.4" fill="#d2d2d2"/>
<text x="605" y="89.7" font-size="28" textLength="223.5" lengthAdjust="spacingAndGlyphs">Heterochromatin</text>
<circle cx="577.3" cy="116.2" r="7.4" fill="#3cb371"/>
<text x="605" y="125.9" font-size="28" textLength="287.8" lengthAdjust="spacingAndGlyphs">Low DNA methylation</text>
<circle cx="577.3" cy="152.5" r="7.4" fill="#0a640a"/>
<text x="605" y="162.2" font-size="28" textLength="347.4" lengthAdjust="spacingAndGlyphs">Transcriptional elongation</text>
<circle cx="577.3" cy="188.7" r="7.4" fill="#000"/>
<text x="605" y="198.4" font-size="28" textLength="95.7" lengthAdjust="spacingAndGlyphs">Coding</text>
<circle cx="577.3" cy="224.9" r="7.4" fill="#ff0a0a"/>
<text x="605" y="234.6" font-size="28" textLength="211.8" lengthAdjust="spacingAndGlyphs">Active promoter</text>
<circle cx="577.3" cy="261.1" r="7.4" fill="#f03c3c"/>
<text x="605" y="270.8" font-size="28" textLength="209.7" lengthAdjust="spacingAndGlyphs">Weak promoter</text>
<circle cx="577.3" cy="297.3" r="7.4" fill="#f5b41e"/>
<text x="605" y="307" font-size="28" textLength="227.2" lengthAdjust="spacingAndGlyphs">Strong enhancer</text>
<circle cx="577.3" cy="333.6" r="7.4" fill="#ffe566"/>
<text x="605" y="343.3" font-size="28" textLength="216.9" lengthAdjust="spacingAndGlyphs">Weak enhancer</text>
<rect class="lg" x="1823" y="13" width="359.5" height="217"/>
<circle cx="1850.2" cy="48.3" r="7.4" fill="#0000cd"/>
<text x="1877.3" y="58" font-size="28" textLength="154.1" lengthAdjust="spacingAndGlyphs">FOXA2 site</text>
<circle cx="1850.2" cy="84.5" r="7.4" fill="#1e90ff"/>
<text x="1877.3" y="94.2" font-size="28" textLength="291.7" lengthAdjust="spacingAndGlyphs">FOXA2 &amp; NKX2.2 site</text>
<circle cx="1850.2" cy="120.7" r="7.4" fill="#6a5acd"/>
<text x="1877.3" y="130.4" font-size="28" textLength="291.7" lengthAdjust="spacingAndGlyphs">FOXA2 &amp; NKX6.1 site</text>
<circle cx="1850.2" cy="157" r="7.4" fill="#458b74"/>
<text x="1877.3" y="166.7" font-size="28" textLength="266.4" lengthAdjust="spacingAndGlyphs">FOXA2 &amp; PDX1 site</text>
<circle cx="1850.2" cy="193.2" r="7.4" fill="#7ac5cd"/>
<text x="1877.3" y="202.9" font-size="28" textLength="272.1" lengthAdjust="spacingAndGlyphs">FOXA2 &amp; MAFB site</text>
</g>
</svg></body></html>
